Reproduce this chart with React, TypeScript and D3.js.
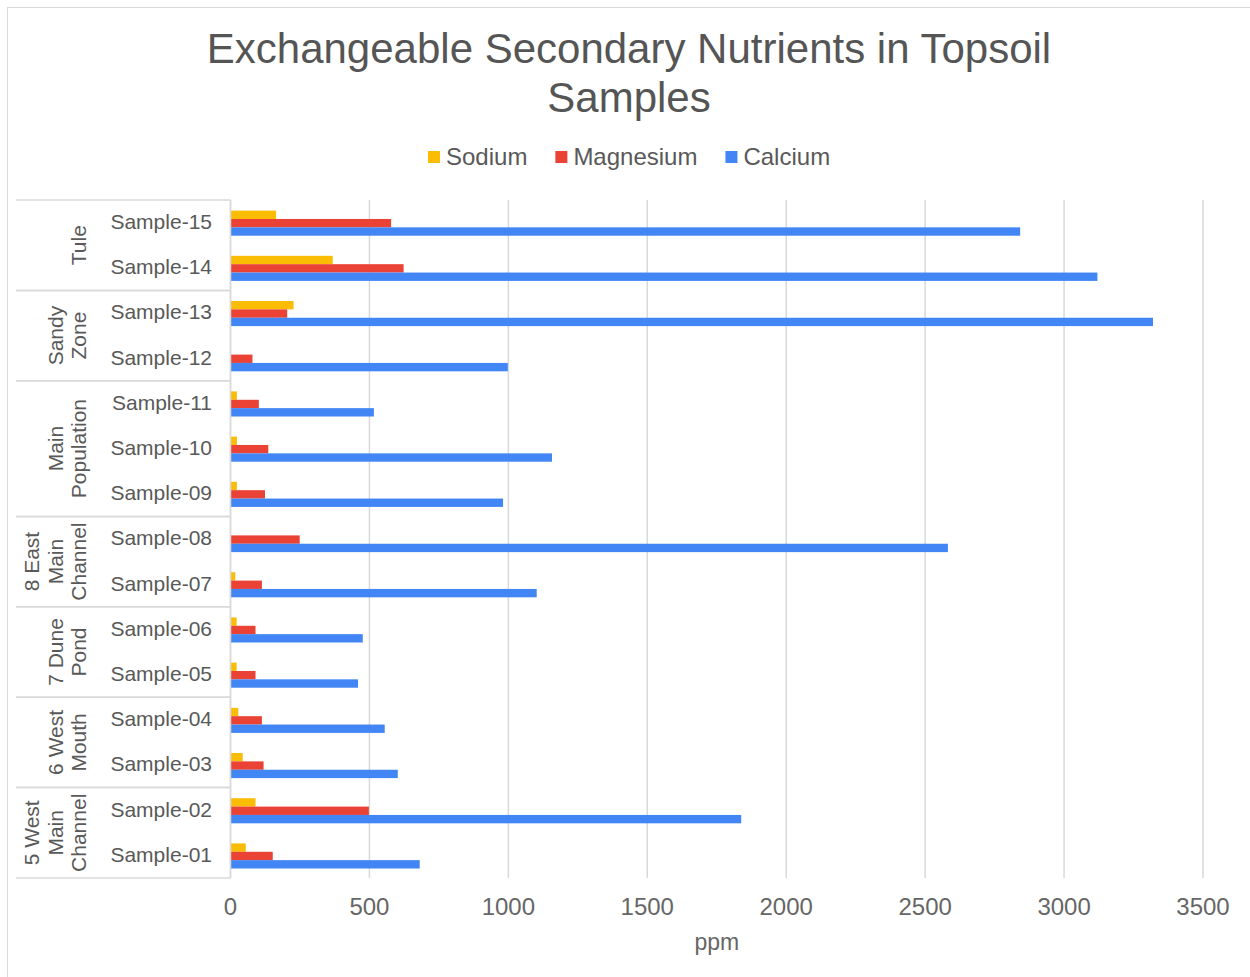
import * as d3 from "d3";
import { useEffect, useRef } from "react";

// Samples listed bottom (01) to top (15)
const samples = [
  "Sample-01", "Sample-02", "Sample-03", "Sample-04", "Sample-05",
  "Sample-06", "Sample-07", "Sample-08", "Sample-09", "Sample-10",
  "Sample-11", "Sample-12", "Sample-13", "Sample-14", "Sample-15",
];
const sodium = [55, 90, 44, 28, 22, 22, 17, 0, 23, 23, 23, 0, 227, 368, 164];
const magnesium = [152, 498, 119, 113, 90, 90, 113, 249, 124, 136, 102, 79, 204, 623, 578];
const calcium = [681, 1838, 602, 555, 459, 476, 1102, 2582, 981, 1157, 516, 998, 3320, 3120, 2842];

// site groups, each with the samples it spans
const groupNames = [
  ["5 West", "Main", "Channel"],
  ["6 West", "Mouth"],
  ["7 Dune", "Pond"],
  ["8 East", "Main", "Channel"],
  ["Main", "Population"],
  ["Sandy", "Zone"],
  ["Tule"],
];
const groupSizes = [2, 2, 2, 2, 3, 2, 2];

const seriesNames = ["Sodium", "Magnesium", "Calcium"];
const seriesColors = ["#fbbc04", "#ea4335", "#4285f4"];
const xTicks = [0, 500, 1000, 1500, 2000, 2500, 3000, 3500];

const W = 1250;
const H = 977;
const FONT = "'Liberation Sans', Arial, sans-serif";

export default function App() {
  const svgRef = useRef<SVGSVGElement | null>(null);

  useEffect(() => {
    const svg = d3.select(svgRef.current);
    svg.selectAll("*").remove();

    const margin = { top: 200, left: 230.5, right: 47, bottom: 99 };
    const plotRight = W - margin.right;
    const plotBottom = H - margin.bottom;

    const x = d3.scaleLinear().domain([0, 3500]).range([margin.left, plotRight]);
    const y = d3
      .scaleBand<string>()
      .domain([...samples].reverse())
      .range([margin.top, plotBottom])
      .padding(0);
    const bw = y.bandwidth();
    const inner = d3
      .scaleBand<string>()
      .domain(seriesNames)
      .range([bw * 0.235, bw * 0.79]);

    // chart frame (only left/top visible in the crop)
    svg
      .append("rect")
      .attr("x", 7.5)
      .attr("y", 7.5)
      .attr("width", W + 20)
      .attr("height", H + 20)
      .attr("fill", "#fff")
      .attr("stroke", "#d9d9d9");

    // title
    const title = svg
      .append("text")
      .attr("text-anchor", "middle")
      .attr("font-family", FONT)
      .attr("font-size", 42)
      .attr("fill", "#555");
    title.append("tspan").attr("x", 629).attr("y", 63).text("Exchangeable Secondary Nutrients in Topsoil");
    title.append("tspan").attr("x", 629).attr("y", 112).text("Samples");

    // legend
    const legend = svg.append("g").attr("font-family", FONT).attr("font-size", 24).attr("fill", "#595959");
    const items = seriesNames.map((name, i) => {
      const g = legend.append("g");
      g.append("rect").attr("width", 12).attr("height", 12).attr("y", 151).attr("fill", seriesColors[i]);
      const t = g.append("text").attr("x", 18).attr("y", 165).text(name);
      const w = (t.node() as SVGTextElement).getComputedTextLength();
      return { g, w: 18 + w };
    });
    const gap = 28;
    let lx = 428;
    items.forEach((it) => {
      it.g.attr("transform", `translate(${lx},0)`);
      lx += it.w + gap;
    });

    // grid
    svg
      .append("g")
      .selectAll("line")
      .data(xTicks)
      .join("line")
      .attr("x1", (d) => x(d))
      .attr("x2", (d) => x(d))
      .attr("y1", margin.top)
      .attr("y2", plotBottom)
      .attr("stroke", "#d9d9d9")
      .attr("stroke-width", 1.5);

    // x tick labels
    svg
      .append("g")
      .selectAll("text")
      .data(xTicks)
      .join("text")
      .attr("x", (d) => x(d))
      .attr("y", 915)
      .attr("text-anchor", "middle")
      .attr("font-family", FONT)
      .attr("font-size", 24)
      .attr("fill", "#666")
      .text((d) => String(d));

    svg
      .append("text")
      .attr("x", (margin.left + plotRight) / 2)
      .attr("y", 950)
      .attr("text-anchor", "middle")
      .attr("font-family", FONT)
      .attr("font-size", 23)
      .attr("fill", "#666")
      .text("ppm");

    // bars
    const seriesValues = [sodium, magnesium, calcium];
    seriesNames.forEach((name, si) => {
      svg
        .append("g")
        .selectAll("rect")
        .data(samples.map((s, i) => ({ s, v: seriesValues[si][i] })).filter((d) => d.v > 0))
        .join("rect")
        .attr("x", x(0))
        .attr("y", (d) => (y(d.s) as number) + (inner(name) as number))
        .attr("width", (d) => x(d.v) - x(0))
        .attr("height", inner.bandwidth())
        .attr("fill", seriesColors[si]);
    });

    // category labels
    svg
      .append("g")
      .selectAll("text")
      .data(samples)
      .join("text")
      .attr("x", 212)
      .attr("y", (d) => (y(d) as number) + bw / 2 - 1)
      .attr("dy", "0.35em")
      .attr("text-anchor", "end")
      .attr("font-family", FONT)
      .attr("font-size", 21)
      .attr("fill", "#595959")
      .text((d) => d);

    // group table lines + labels
    const axis = svg.append("g");
    axis
      .append("line")
      .attr("x1", x(0))
      .attr("x2", x(0))
      .attr("y1", margin.top)
      .attr("y2", plotBottom)
      .attr("stroke", "#d9d9d9")
      .attr("stroke-width", 1.5);

    let start = 0;
    groupSizes.forEach((n, gi) => {
      const bottomSample = samples[start];
      const topSample = samples[start + n - 1];
      const yTop = y(topSample) as number;
      const yBot = (y(bottomSample) as number) + bw;
      [yTop, yBot].forEach((yy) => {
        axis
          .append("line")
          .attr("x1", 16)
          .attr("x2", x(0))
          .attr("y1", yy)
          .attr("y2", yy)
          .attr("stroke", "#d9d9d9")
          .attr("stroke-width", 1.5);
      });
      const lines = groupNames[gi];
      const cy = (yTop + yBot) / 2;
      lines.forEach((ln, li) => {
        const bx = 86 - (lines.length - 1 - li) * 23.5;
        axis
          .append("text")
          .attr("transform", `translate(${bx},${cy}) rotate(-90)`)
          .attr("text-anchor", "middle")
          .attr("font-family", FONT)
          .attr("font-size", 21)
          .attr("fill", "#595959")
          .text(ln);
      });
      start += n;
    });
  }, []);

  return (
    <svg
      ref={svgRef}
      width={W}
      height={H}
      style={{ position: "absolute", left: 0, top: 0, background: "#fff" }}
    ></svg>
  );
}
